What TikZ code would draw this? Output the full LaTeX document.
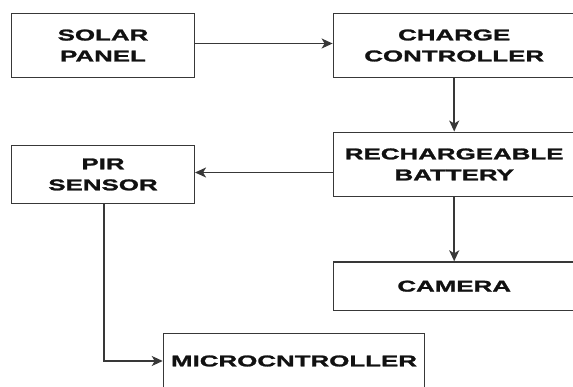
\documentclass[tikz,border=0pt]{standalone}
\usepackage{fontspec}
\setmainfont{Liberation Sans}[FakeStretch=1.66, BoldFeatures={FakeBold=1.6}]
\usetikzlibrary{arrows.meta}
\definecolor{linec}{HTML}{383838}
\definecolor{textc}{HTML}{111111}
\tikzset{
  blk/.style={draw=linec, line width=1.5pt, rectangle, align=center, inner sep=0pt,
    font=\fontsize{15.6}{21}\selectfont\bfseries, text=textc},
  arr/.style={draw=linec, line width=1.5pt, -{Stealth[length=11pt,width=10pt,inset=3pt]}}
}
\begin{document}
\begin{tikzpicture}[x=1pt,y=-1pt]
\useasboundingbox (0,0) rectangle (573,387);
\clip (0,0) rectangle (573,387);
\fill[white] (0,0) rectangle (573,387);
\node[blk, minimum width=182.6pt, minimum height=64.4pt] (solar) at (103,45.5) {SOLAR\\PANEL};
\node[blk, minimum width=241.7pt, minimum height=64.4pt] (charge) at (454.2,45.5) {CHARGE\\CONTROLLER};
\node[blk, minimum width=241.7pt, minimum height=64.2pt] (battery) at (454.2,164.4) {RECHARGEABLE\\BATTERY};
\node[blk, minimum width=182.6pt, minimum height=57.6pt] (pir) at (103,174.5) {PIR\\SENSOR};
\node[blk, minimum width=241.7pt, minimum height=48.3pt] (camera) at (454.2,286.2) {CAMERA};
\node[blk, minimum width=261pt, minimum height=55pt] (micro) at (294,361) {MICROCNTROLLER};
\draw[arr] ([yshift=2pt]solar.east) -- ([yshift=2pt]charge.west);
\draw[arr] (charge.south) -- (battery.north);
\draw[arr] ([yshift=2pt]battery.west |- pir.east) -- ([yshift=2pt]pir.east);
\draw[arr] (battery.south) -- (camera.north);
\draw[arr] ([xshift=1pt]pir.south) |- (micro.west);
\end{tikzpicture}
\end{document}
